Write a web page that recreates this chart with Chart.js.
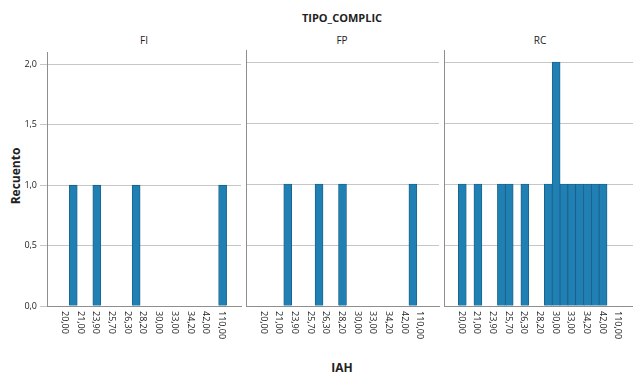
<!doctype html>
<html>
<head>
    <title>TIPO_COMPLIC - IAH</title>
    <script src="https://cdn.jsdelivr.net/npm/chart.js"></script>
    <style>
        body { margin: 0; width: 633px; height: 374px; overflow: hidden; background: #fff; position: relative; font-family: "Open Sans", sans-serif; color: #222; }
        .texto { position: absolute; transform: translate(-50%, -50%); white-space: nowrap; }
        .negrita { font-weight: bold; }
        canvas { position: absolute; top: 44px; }
    </style>
</head>
<body>

    <!-- Títulos -->
    <div class="texto negrita" style="left: 342px; top: 17px; font-size: 11px;">TIPO_COMPLIC</div>
    <div class="texto" style="left: 144px; top: 40px; font-size: 10px;">FI</div>
    <div class="texto" style="left: 342px; top: 40px; font-size: 10px;">FP</div>
    <div class="texto" style="left: 540px; top: 40px; font-size: 10px;">RC</div>
    <div class="texto negrita" style="left: 15px; top: 176px; font-size: 12px; transform: translate(-50%, -50%) rotate(-90deg);">Recuento</div>
    <div class="texto negrita" style="left: 342px; top: 367px; font-size: 12px;">IAH</div>

    <canvas id="panelFI" width="243" height="300" style="left: 0px;"></canvas>
    <canvas id="panelFP" width="195" height="300" style="left: 246px;"></canvas>
    <canvas id="panelRC" width="195" height="300" style="left: 444px;"></canvas>

    <script>
        // Valores de IAH (solo se muestra una etiqueta de cada dos)
        var categorias = ['20,00', '20,60', '21,00', '22,00', '23,90', '24,50', '25,70', '26,00', '26,30', '27,00',
                          '28,20', '29,00', '30,00', '31,50', '33,00', '34,00', '34,20', '38,00', '42,00', '45,00', '110,00'];

        // Recuento por panel (TIPO_COMPLIC)
        var recuentoFI = [0, 1, 0, 0, 1, 0, 0, 0, 0, 1, 0, 0, 0, 0, 0, 0, 0, 0, 0, 0, 1];
        var recuentoFP = [0, 0, 0, 1, 0, 0, 0, 1, 0, 0, 1, 0, 0, 0, 0, 0, 0, 0, 0, 1, 0];
        var recuentoRC = [1, 0, 1, 0, 0, 1, 1, 0, 1, 0, 0, 1, 2, 1, 1, 1, 1, 1, 1, 0, 0];

        // Marcas del eje Y
        var marcasY = [0, 0.5, 1, 1.5, 2];

        var colorRejilla = '#c6c6c6';
        var colorEje = '#8e8e8e';

        // Etiquetas del eje X giradas 90 grados (se leen de arriba abajo)
        var etiquetasX = {
            id: 'etiquetasX',
            afterDraw(chart) {
                var ctx = chart.ctx;
                var escala = chart.scales.x;
                ctx.save();
                ctx.font = '9px "Open Sans"';
                ctx.fillStyle = '#222';
                ctx.textAlign = 'left';
                ctx.textBaseline = 'middle';
                categorias.forEach((cat, i) => {
                    if (i % 2 == 1) return;
                    ctx.save();
                    ctx.translate(escala.getPixelForValue(i) - 1, escala.bottom + 5);
                    ctx.rotate(Math.PI / 2);
                    ctx.fillText(cat, 0, 0);
                    ctx.restore();
                });
                ctx.restore();
            }
        };

        function crearPanel(id, recuento, conEtiquetasY) {
            return new Chart(document.getElementById(id), {
                type: 'bar',
                data: {
                    datasets: [{
                        data: recuento.map((v, i) => ({ x: i, y: v || null })),
                        backgroundColor: '#2080b4',
                        borderColor: '#1a5b80',
                        borderWidth: 0.8,
                        borderSkipped: 'start',
                        inflateAmount: 0.4,
                        barPercentage: 1,
                        categoryPercentage: 1
                    }]
                },
                options: {
                    responsive: false,
                    animation: false,
                    layout: { padding: { top: 6, right: 2, bottom: 38, left: 0 } },
                    plugins: { legend: { display: false }, tooltip: { enabled: false } },
                    scales: {
                        x: {
                            type: 'linear',
                            min: -1.75,
                            max: 21.75,
                            afterBuildTicks: (s) => { s.ticks = categorias.map((c, i) => ({ value: i })); },
                            grid: { display: false, drawTicks: false },
                            border: { display: true, color: colorEje, width: 1 },
                            ticks: { display: false }
                        },
                        y: {
                            min: 0,
                            max: 2.1,
                            afterBuildTicks: (s) => { s.ticks = marcasY.map(v => ({ value: v })); },
                            afterFit: (s) => { s.width = conEtiquetasY ? 47 : 0; },
                            grid: { color: colorRejilla, lineWidth: 1, drawTicks: conEtiquetasY, tickLength: 7 },
                            border: { display: true, color: colorEje, width: 1 },
                            ticks: {
                                display: conEtiquetasY,
                                padding: 3,
                                color: '#222',
                                font: { family: 'Open Sans', size: 9 },
                                callback: (v) => v.toFixed(1).replace('.', ',')
                            }
                        }
                    }
                },
                plugins: [etiquetasX]
            });
        }

        crearPanel('panelFI', recuentoFI, true);
        crearPanel('panelFP', recuentoFP, false);
        crearPanel('panelRC', recuentoRC, false);
    </script>
</body>
</html>
